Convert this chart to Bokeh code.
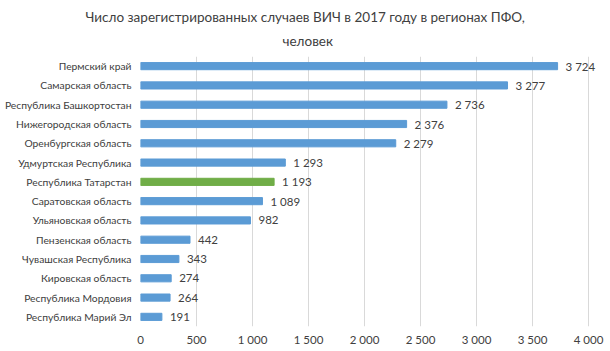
from bokeh.plotting import figure
from bokeh.models import ColumnDataSource, FactorRange, FixedTicker, Range1d, Title
from bokeh.core.properties import value
from bokeh.embed import file_html
from bokeh.resources import INLINE

regions = ["Пермский край", "Самарская область", "Республика Башкортостан",
           "Нижегородская область", "Оренбургская область", "Удмуртская Республика",
           "Республика Татарстан", "Саратовская область", "Ульяновская область",
           "Пензенская область", "Чувашская Республика", "Кировская область",
           "Республика Мордовия", "Республика Марий Эл"]
cases = [3724, 3277, 2736, 2376, 2279, 1293, 1193, 1089, 982, 442, 343, 274, 264, 191]
highlight = "Республика Татарстан"
x_ticks = [0, 500, 1000, 1500, 2000, 2500, 3000, 3500, 4000]
title_lines = ["Число зарегистрированных случаев ВИЧ в 2017 году в регионах ПФО,", "человек"]

def fmt(v):
    return "{:,}".format(v).replace(",", " ")

FONT = "Lato"
BLUE = "#5B9BD5"
GREEN = "#70AD47"
TXT = "#404040"

colors = [GREEN if r == highlight else BLUE for r in regions]
src = ColumnDataSource(dict(region=regions, cases=cases, color=colors,
                            label=[fmt(v) for v in cases]))

# frame spans 140..605 px; 0..4000 maps to 140..588 px
p = figure(width=610, height=351, output_backend="svg", toolbar_location=None, title=None,
           y_range=FactorRange(*reversed(regions)), x_range=Range1d(0, 4000 * 465 / 448),
           min_border_left=140, min_border_right=5, min_border_top=56, min_border_bottom=25)

p.hbar(y="region", right="cases", height=0.37, color="color", source=src)
p.text(x="cases", y="region", text="label", source=src, x_offset=8,
       text_baseline="middle", text_font=value(FONT), text_font_size="11.5px",
       text_color=TXT)

# second line first (closest to the plot), then first line above it
p.add_layout(Title(text=title_lines[1], align="left", offset=142, text_font=FONT,
                   text_font_size="13.5px", text_font_style="normal", vertical_align="top",
                   text_color=TXT, standoff=12), "above")
p.add_layout(Title(text=title_lines[0], align="left", offset=-55, text_font=FONT,
                   text_font_size="13.5px", text_font_style="normal",
                   text_color=TXT, standoff=4), "above")

p.xaxis.ticker = FixedTicker(ticks=x_ticks)
p.xaxis.major_label_overrides = {t: fmt(t) for t in x_ticks}
p.xaxis.axis_line_color = None
p.xaxis.major_tick_line_color = None
p.xaxis.minor_tick_line_color = None
p.xaxis.major_tick_out = 0
p.xaxis.major_label_text_font = FONT
p.xaxis.major_label_text_font_size = "11.5px"
p.xaxis.major_label_text_color = TXT
p.xaxis.major_label_standoff = 6

p.yaxis.axis_line_color = None
p.yaxis.major_tick_line_color = None
p.yaxis.minor_tick_line_color = None
p.yaxis.major_tick_out = 0
p.yaxis.major_label_text_font = FONT
p.yaxis.major_label_text_font_size = "10.3px"
p.yaxis.major_label_text_color = TXT
p.yaxis.major_label_standoff = 9

p.ygrid.grid_line_color = None
p.xgrid.grid_line_color = "#D9D9D9"
p.outline_line_color = None
p.y_range.range_padding = 0

open("out.html", "w").write(file_html(p, INLINE))
